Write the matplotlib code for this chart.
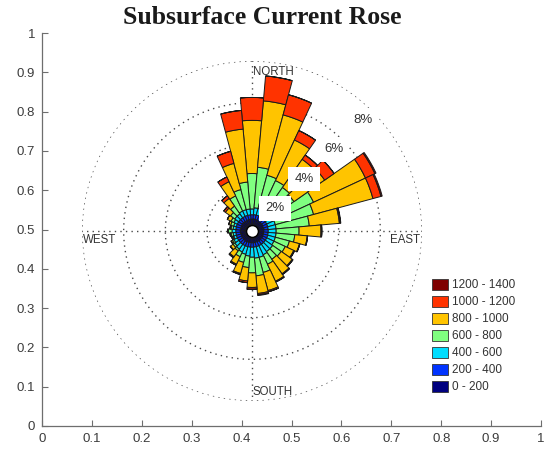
import numpy as np
import matplotlib
matplotlib.use("Agg")
import matplotlib.pyplot as plt
from matplotlib.patches import Patch

# Direction bins (degrees clockwise from north), 10 degree sectors
directions = np.arange(0, 360, 10)

speed_labels = ["0 - 200", "200 - 400", "400 - 600", "600 - 800",
                "800 - 1000", "1000 - 1200", "1200 - 1400"]
speed_colors = ["#00007f", "#0033ff", "#00ddff", "#80ff80",
                "#ffc400", "#ff3300", "#7f0000"]

# Frequency (%) of each speed class per direction sector
freq_0_200 = [0.40, 0.42, 0.41, 0.40, 0.39, 0.40, 0.41, 0.40, 0.42, 0.40, 0.39, 0.40,
              0.41, 0.40, 0.42, 0.41, 0.40, 0.41, 0.40, 0.39, 0.40, 0.41, 0.40, 0.39,
              0.40, 0.38, 0.39, 0.40, 0.38, 0.39, 0.40, 0.41, 0.40, 0.39, 0.40, 0.41]
freq_200_400 = [0.22, 0.21, 0.22, 0.23, 0.22, 0.22, 0.21, 0.22, 0.20, 0.22, 0.23, 0.22,
                0.21, 0.22, 0.20, 0.21, 0.22, 0.21, 0.22, 0.23, 0.22, 0.21, 0.22, 0.23,
                0.22, 0.24, 0.23, 0.22, 0.24, 0.23, 0.22, 0.21, 0.22, 0.23, 0.22, 0.21]
freq_400_600 = [0.28, 0.33, 0.33, 0.33, 0.33, 0.33, 0.38, 0.38, 0.38, 0.38, 0.38, 0.38,
                0.38, 0.43, 0.43, 0.48, 0.53, 0.53, 0.48, 0.43, 0.38, 0.33, 0.28, 0.23,
                0.18, 0.13, 0.13, 0.18, 0.13, 0.13, 0.18, 0.23, 0.23, 0.28, 0.28, 0.28]
freq_600_800 = [1.70, 1.95, 1.65, 1.55, 1.45, 1.35, 2.10, 1.90, 1.60, 1.10, 0.90, 0.70,
                0.60, 0.50, 0.45, 0.50, 0.75, 0.85, 0.75, 0.55, 0.40, 0.25, 0.10, 0.10,
                0.08, 0.05, 0.10, 0.20, 0.10, 0.15, 0.15, 0.25, 0.45, 0.80, 1.00, 1.30]
freq_800_1000 = [2.55, 3.20, 3.00, 2.15, 1.65, 1.80, 2.75, 2.95, 1.45, 1.05, 0.60, 0.50,
                 0.45, 0.65, 0.85, 0.90, 0.90, 0.85, 0.70, 0.65, 0.55, 0.40, 0.35, 0.15,
                 0.07, 0.05, 0.05, 0.00, 0.05, 0.10, 0.20, 0.30, 0.45, 0.75, 1.30, 2.55]
freq_1000_1200 = [1.10, 1.20, 1.00, 0.50, 0.25, 0.55, 0.50, 0.40, 0.05, 0.04, 0.02, 0.02,
                  0.04, 0.04, 0.04, 0.04, 0.06, 0.06, 0.08, 0.08, 0.05, 0.05, 0.05, 0.02,
                  0.00, 0.00, 0.00, 0.00, 0.00, 0.00, 0.00, 0.10, 0.15, 0.25, 0.60, 0.90]
freq_1200_1400 = [0.00, 0.00, 0.00, 0.00, 0.00, 0.00, 0.06, 0.06, 0.02, 0.00, 0.00, 0.00,
                  0.00, 0.00, 0.00, 0.00, 0.00, 0.04, 0.02, 0.00, 0.00, 0.00, 0.00, 0.00,
                  0.00, 0.00, 0.00, 0.00, 0.00, 0.00, 0.00, 0.00, 0.00, 0.00, 0.00, 0.00]

ring_levels = [2, 4, 6, 8]
ring_labels = ["2%", "4%", "6%", "8%"]
x_ticks = [0, 0.1, 0.2, 0.3, 0.4, 0.5, 0.6, 0.7, 0.8, 0.9, 1]
x_tick_labels = ["0", "0.1", "0.2", "0.3", "0.4", "0.5", "0.6", "0.7", "0.8", "0.9", "1"]

plt.rcParams["font.family"] = ["Liberation Sans", "DejaVu Sans"]

W, H = 547, 454
fig = plt.figure(figsize=(W / 100, H / 100), dpi=100)

# Background cartesian axes (0..1 in both directions)
ax = fig.add_axes([42 / W, (H - 426) / H, 499 / W, 393 / H])
ax.set_xlim(0, 1)
ax.set_ylim(0, 1)
ax.set_xticks(x_ticks)
ax.set_xticklabels(x_tick_labels)
ax.set_yticks(x_ticks)
ax.set_yticklabels(x_tick_labels)
for s in ["top", "right"]:
    ax.spines[s].set_visible(False)
for s in ["left", "bottom"]:
    ax.spines[s].set_color("#6e6e6e")
    ax.spines[s].set_linewidth(0.9)
ax.tick_params(direction="in", length=4, width=0.8, colors="#6e6e6e",
               labelcolor="#3c3c3c", labelsize=9.5, pad=5)

# Polar rose axes centred on the background axes
cx, cy, rad = 252, 231, 170
pax = fig.add_axes([(cx - rad) / W, (H - cy - rad) / H, 2 * rad / W, 2 * rad / H],
                   projection="polar")
pax.set_theta_zero_location("N")
pax.set_theta_direction(-1)
r0 = -0.16
pax.set_rorigin(r0)
pax.set_ylim(0, 8)
pax.patch.set_alpha(0)
pax.grid(False)
pax.spines["polar"].set_visible(False)
pax.set_xticks([])
pax.set_yticks([])

dot_style = (0, (1, 3))
theta_full = np.linspace(0, 2 * np.pi, 400)
for lv in ring_levels:
    pax.plot(theta_full, np.full_like(theta_full, lv), ls=dot_style,
             color="#4a4a4a", lw=1.0, zorder=1)
for ang in [0, 90, 180, 270]:
    pax.plot([np.radians(ang)] * 2, [0, 8], ls=dot_style,
             color="#4a4a4a", lw=1.0, zorder=1)

theta = np.radians(directions)
width = np.radians(10)
series = [freq_0_200, freq_200_400, freq_400_600, freq_600_800,
          freq_800_1000, freq_1000_1200, freq_1200_1400]
bottom = np.zeros(len(directions))
handles = []
for vals, col, lab in zip(series, speed_colors, speed_labels):
    vals = np.asarray(vals)
    pax.bar(theta, vals, width=width, bottom=bottom, color=col,
            edgecolor="#1a1a1a", linewidth=0.7, align="center", zorder=3)
    bottom = bottom + vals
    handles.append(Patch(facecolor=col, edgecolor="#333333", linewidth=0.6, label=lab))

# Hollow centre
pax.plot([0], [r0], marker="o", ms=8.5, mfc="white", mec="black", mew=1.0,
         zorder=6, clip_on=False)

# Ring labels
for lv, lab in zip(ring_levels, ring_labels):
    pax.text(np.radians(45), lv - 0.62, lab, ha="center", va="center",
             fontsize=9.5, color="#333333", zorder=7,
             bbox=dict(facecolor="white", edgecolor="none", pad=4.5))

# Cardinal labels
lab_kw = dict(fontsize=8.3, color="#333333", transform=pax.transAxes, zorder=7)
pax.text(0.502, 0.968, "NORTH", ha="left", va="center", **lab_kw)
pax.text(0.995, 0.474, "EAST", ha="right", va="center", **lab_kw)
pax.text(0.502, 0.027, "SOUTH", ha="left", va="center", **lab_kw)
pax.text(0.003, 0.474, "WEST", ha="left", va="center", **lab_kw)

# Legend (highest class on top)
leg = ax.legend(handles=handles[::-1], loc="upper left", bbox_to_anchor=(0.782, 0.375),
                frameon=False, fontsize=8.5, handlelength=1.3, handleheight=1.05,
                handletextpad=0.4, labelspacing=0.38, borderaxespad=0, borderpad=0)
for t in leg.get_texts():
    t.set_color("#333333")

fig.text(262 / W, 1 - 18 / H, "Subsurface Current Rose", ha="center", va="center",
         fontsize=18.5, fontweight="bold", family=["Liberation Serif", "DejaVu Serif"],
         color="#1a1a1a")

fig.savefig("out.png", dpi=100)
